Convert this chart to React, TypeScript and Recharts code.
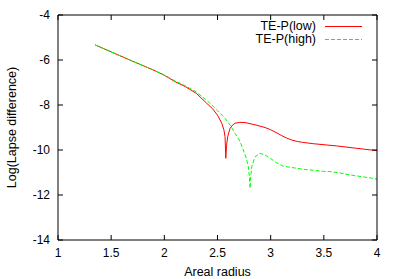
import React from "react";
import { LineChart, Line, XAxis, YAxis, Legend } from "recharts";

const xTicks = [1, 1.5, 2, 2.5, 3, 3.5, 4];
const yTicks = [-14, -12, -10, -8, -6, -4];

// TE-P(low)
const lowR = [
  1.35, 1.5, 1.7, 1.9, 2.0, 2.1, 2.2, 2.3, 2.4, 2.45, 2.5, 2.54, 2.56, 2.571,
  2.578, 2.585, 2.596, 2.618, 2.64, 2.665, 2.71, 2.759, 2.853, 2.947, 3.0,
  3.05, 3.1, 3.15, 3.2, 3.25, 3.3, 3.4, 3.622, 3.8, 4.0,
];
const lowV = [
  -5.33, -5.64, -6.05, -6.45, -6.68, -6.96, -7.19, -7.48, -7.93, -8.15, -8.45,
  -8.81, -9.1, -9.41, -10.37, -9.8, -9.41, -9.04, -8.9, -8.81, -8.77, -8.78,
  -8.88, -9.0, -9.1, -9.22, -9.35, -9.47, -9.56, -9.62, -9.66, -9.72, -9.82,
  -9.92, -10.03,
];

// TE-P(high)
const highR = [
  1.35, 1.5, 1.7, 1.9, 2.0, 2.1, 2.2, 2.3, 2.4, 2.446, 2.5, 2.571, 2.62, 2.665,
  2.71, 2.743, 2.77, 2.79, 2.8, 2.806, 2.812, 2.822, 2.853, 2.9, 2.947, 3.0,
  3.05, 3.12, 3.2, 3.31, 3.4, 3.5, 3.56, 3.65, 3.75, 3.85, 3.95, 4.0,
];
const highV = [
  -5.33, -5.64, -6.05, -6.45, -6.67, -6.93, -7.15, -7.42, -7.8, -8.0, -8.25,
  -8.59, -8.9, -9.26, -9.6, -10.0, -10.35, -10.74, -11.2, -11.7, -11.2, -10.74,
  -10.3, -10.15, -10.22, -10.38, -10.55, -10.72, -10.78, -10.86, -10.9, -10.95,
  -10.96, -11.02, -11.11, -11.18, -11.25, -11.3,
];

const lowData = lowR.map((r, i) => ({ r, low: lowV[i] }));
const highData = highR.map((r, i) => ({ r, high: highV[i] }));

const FONT = "'Liberation Sans', Arial, sans-serif";
const TICK_LEN = 5;

// gnuplot style: ticks point into the plot
const BottomTick = (props: any) => {
  const { x, y, payload } = props;
  return (
    <g>
      <line x1={x} y1={y} x2={x} y2={y - TICK_LEN} stroke="#000" />
      <text x={x} y={y + 13} dy="0.35em" textAnchor="middle" fontSize={12} fontFamily={FONT} fill="#000">
        {payload.value}
      </text>
    </g>
  );
};

const LeftTick = (props: any) => {
  const { x, y, payload } = props;
  return (
    <g>
      <line x1={x} y1={y} x2={x + TICK_LEN} y2={y} stroke="#000" />
      <text x={x - 8} y={y} dy="0.35em" textAnchor="end" fontSize={12} fontFamily={FONT} fill="#000">
        {payload.value}
      </text>
    </g>
  );
};

// top axis box sits above the frame line, right axis box sits right of it
const TopTick = (props: any) => {
  const { x } = props;
  return <line x1={x} y1={15} x2={x} y2={15 + TICK_LEN} stroke="#000" />;
};

const RightTick = (props: any) => {
  const { y } = props;
  return <line x1={377} y1={y} x2={377 - TICK_LEN} y2={y} stroke="#000" />;
};

const KeyBox = () => (
  <div style={{ fontFamily: FONT, fontSize: 12.5, color: "#000", lineHeight: "13px" }}>
    {[
      { name: "TE-P(low)", color: "#ff0000", dash: undefined },
      { name: "TE-P(high)", color: "#00ff00", dash: "4 2" },
    ].map((e) => (
      <div key={e.name} style={{ display: "flex", alignItems: "center", justifyContent: "flex-end", height: 13 }}>
        <span>{e.name}</span>
        <svg width={46} height={13} style={{ marginLeft: 8 }}>
          <line x1={1} y1={6.5} x2={38} y2={6.5} stroke={e.color} strokeWidth={1} strokeDasharray={e.dash} />
        </svg>
      </div>
    ))}
  </div>
);

export default function App() {
  return (
    <div style={{ position: "absolute", left: 0, top: 0, width: 399, height: 279, background: "#fff" }}>
      <LineChart width={399} height={279} margin={{ top: 14, right: 21, bottom: 0, left: 0 }}>
        <XAxis
          xAxisId={0}
          dataKey="r"
          type="number"
          domain={[1, 4]}
          ticks={xTicks}
          tickSize={0}
          tickMargin={0}
          tickLine={false}
          height={39}
          axisLine={{ stroke: "#000" }}
          tick={<BottomTick />}
          label={{
            value: "Areal radius",
            position: "insideBottom",
            offset: 3,
            style: { fontFamily: FONT, fontSize: 12.5, fill: "#000" },
          }}
        />
        <XAxis
          xAxisId="top"
          orientation="top"
          dataKey="r"
          type="number"
          domain={[1, 4]}
          ticks={xTicks}
          tickSize={0}
          tickMargin={0}
          tickLine={false}
          height={1}
          axisLine={{ stroke: "#000" }}
          tick={<TopTick />}
        />
        <YAxis
          yAxisId={0}
          type="number"
          domain={[-14, -4]}
          ticks={yTicks}
          tickSize={0}
          tickMargin={0}
          tickLine={false}
          width={58}
          axisLine={{ stroke: "#000" }}
          tick={<LeftTick />}
          label={{
            value: "Log(Lapse difference)",
            angle: -90,
            position: "insideLeft",
            offset: 12,
            style: { fontFamily: FONT, fontSize: 12.5, fill: "#000", textAnchor: "middle" },
          }}
        />
        <YAxis
          yAxisId="right"
          orientation="right"
          type="number"
          domain={[-14, -4]}
          ticks={yTicks}
          tickSize={0}
          tickMargin={0}
          tickLine={false}
          width={1}
          axisLine={{ stroke: "#000" }}
          tick={<RightTick />}
        />
        <Legend
          layout="vertical"
          align="center"
          verticalAlign="middle"
          content={<KeyBox />}
          wrapperStyle={{ position: "absolute", top: 20, right: 29, left: "auto", width: "auto" }}
        />
        {/* invisible copy so the top/right frame axes render */}
        <Line
          data={lowData}
          dataKey="low"
          xAxisId="top"
          yAxisId="right"
          stroke="none"
          dot={false}
          activeDot={false}
          legendType="none"
          isAnimationActive={false}
        />
        <Line
          data={lowData}
          dataKey="low"
          name="TE-P(low)"
          type="linear"
          stroke="#ff0000"
          strokeWidth={1}
          dot={false}
          isAnimationActive={false}
        />
        <Line
          data={highData}
          dataKey="high"
          name="TE-P(high)"
          type="linear"
          stroke="#00ff00"
          strokeWidth={1}
          strokeDasharray="4 2"
          dot={false}
          isAnimationActive={false}
        />
      </LineChart>
    </div>
  );
}
